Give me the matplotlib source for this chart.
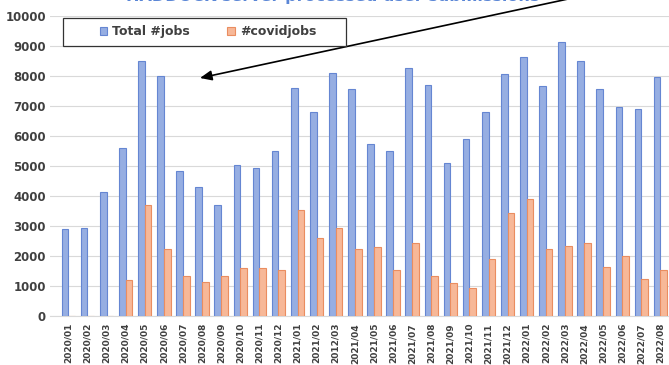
import numpy as np
import matplotlib
matplotlib.use("Agg")
import matplotlib.pyplot as plt
from matplotlib.patches import Rectangle

# monthly counts (note: 2021/03 is labelled "2012/03" in the original)
months = ["2020/01", "2020/02", "2020/03", "2020/04", "2020/05", "2020/06",
          "2020/07", "2020/08", "2020/09", "2020/10", "2020/11", "2020/12",
          "2021/01", "2021/02", "2012/03", "2021/04", "2021/05", "2021/06",
          "2021/07", "2021/08", "2021/09", "2021/10", "2021/11", "2021/12",
          "2022/01", "2022/02", "2022/03", "2022/04", "2022/05", "2022/06",
          "2022/07", "2022/08"]
total_jobs = [2900, 2950, 4150, 5600, 8500, 8000, 4850, 4300, 3700, 5050,
              4950, 5500, 7600, 6800, 8100, 7550, 5750, 5500, 8250, 7700,
              5100, 5900, 6800, 8050, 8650, 7650, 9150, 8500, 7550, 6950,
              6900, 7950]
covid_jobs = [0, 0, 0, 1200, 3700, 2250, 1350, 1150, 1350, 1600,
              1600, 1550, 3550, 2600, 2950, 2250, 2300, 1550, 2450, 1350,
              1100, 950, 1900, 3450, 3900, 2250, 2350, 2450, 1650, 2000,
              1250, 1550]
yticks = [0, 1000, 2000, 3000, 4000, 5000, 6000, 7000, 8000, 9000, 10000]

W, H = 669, 365
fig = plt.figure(figsize=(W / 100, H / 100), dpi=100)
ax = fig.add_axes([50 / W, 1 - 316 / H, 619 / W, 300 / H])

x = np.arange(len(months))
bw = 0.35
blue_face, blue_edge = "#96aee2", "#6586d2"
orange_face, orange_edge = "#f7b898", "#ea8d60"
ax.bar(x - bw / 2, total_jobs, bw, color=blue_face, edgecolor=blue_edge,
       linewidth=0.8, zorder=3, label="Total #jobs")
ax.bar(x + bw / 2, covid_jobs, bw, color=orange_face, edgecolor=orange_edge,
       linewidth=0.8, zorder=3, label="#covidjobs")

ax.set_xlim(-0.96, 31.45)
ax.set_ylim(0, 10000)
ax.set_yticks(yticks)
ax.set_yticklabels([str(v) for v in yticks], fontsize=8.5, fontweight="bold",
                   color="#404040")
ax.set_xticks(x)
ax.set_xticklabels(months, rotation=90, fontsize=6.5, fontweight="bold",
                   color="#404040")
ax.tick_params(axis="both", length=0)
ax.tick_params(axis="y", pad=3)
ax.tick_params(axis="x", pad=5)
ax.grid(axis="y", color="#d9d9d9", linewidth=0.8, zorder=0)
for s in ["top", "right", "left"]:
    ax.spines[s].set_visible(False)
ax.spines["bottom"].set_color("#d9d9d9")

# title, mostly cut off at the top edge (as in the source image)
fig.text(333 / W, 1 - 1.5 / H, "HADDOCK server processed user submissions",
         ha="center", va="baseline", fontsize=11.5, fontweight="bold",
         color="#5a86d6")

# legend box
fig.patches.append(Rectangle((63 / W, 1 - 46 / H), 283 / W, 28 / H,
                             transform=fig.transFigure, facecolor="white",
                             edgecolor="#333333", linewidth=0.9, zorder=5))
leg = fig.legend(loc="center", bbox_to_anchor=(208 / W, 1 - 32 / H),
                 ncol=2, frameon=False, handlelength=0.6,
                 handleheight=0.6, handletextpad=0.4, columnspacing=3.0,
                 prop={"weight": "bold", "size": 9})
for t in leg.get_texts():
    t.set_color("#404040")
leg.set_zorder(6)

# arrow from the title down into the plot
ax.annotate("", xy=(200 / W, 1 - 78 / H), xycoords="figure fraction",
            xytext=(610 / W, 1 + 10 / H), textcoords="figure fraction",
            arrowprops=dict(arrowstyle="-|>,head_length=0.7,head_width=0.3",
                            color="black", lw=1.2, shrinkA=0, shrinkB=0),
            annotation_clip=False, zorder=7)

fig.savefig("out.png", dpi=100)
